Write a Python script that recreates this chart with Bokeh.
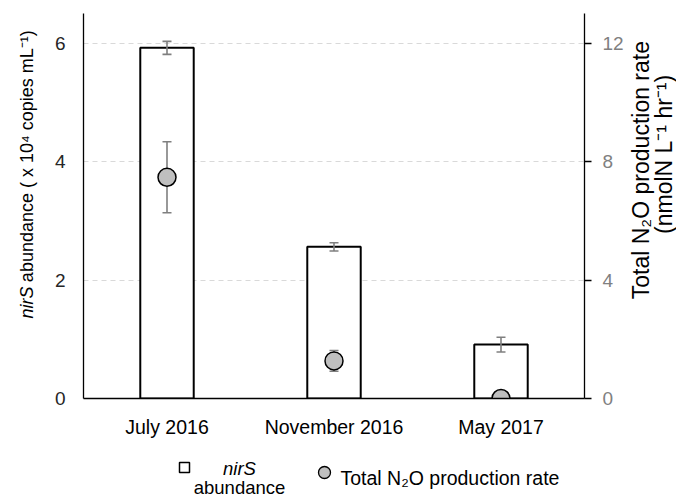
import math

from bokeh.plotting import figure
from bokeh.models import Range1d, LinearAxis, FactorRange, FixedTicker
from bokeh.layouts import column, row
from bokeh.embed import file_html
from bokeh.resources import INLINE
from bokeh.core.properties import value

# sampling campaigns
months = ["July 2016", "November 2016", "May 2017"]

# nirS gene abundance (x 10^4 copies mL^-1) and its error
nirs_abundance = [5.92, 2.56, 0.91]
nirs_err = [0.11, 0.07, 0.125]

# total N2O production rate (nmolN L^-1 hr^-1) and its error
n2o_rate = [7.47, 1.27, 0.0]
n2o_err = [1.2, 0.35, 0.0]

left_ticks = [0, 2, 4, 6]
right_ticks = [0, 4, 8, 12]

FONT = "Liberation Sans"
ERR_COLOR = "#7f7f7f"
UP = math.pi / 2

MAIN_H = 440
LEFT_W = 40
RIGHT_W = 50
TOTAL_W = 676
LEG_H = 497 - MAIN_H


def blank(width, height):
    """A bare figure whose data units are pixels (origin at bottom-left)."""
    f = figure(width=width, height=height, x_range=Range1d(0, width),
               y_range=Range1d(0, height), output_backend="svg",
               toolbar_location=None, x_axis_type=None, y_axis_type=None,
               min_border=0)
    f.outline_line_color = None
    f.grid.visible = False
    return f


p = figure(
    x_range=FactorRange(factors=months, range_padding=0),
    y_range=Range1d(0, 6.5),
    width=TOTAL_W - LEFT_W - RIGHT_W, height=MAIN_H,
    output_backend="svg", toolbar_location=None,
    min_border_left=43, min_border_right=42,
    min_border_top=13, min_border_bottom=39,
)
p.extra_y_ranges = {"n2o": Range1d(0, 13)}
p.outline_line_color = None

# grid: dashed horizontal lines only
p.xgrid.visible = False
p.ygrid.ticker = FixedTicker(ticks=[t for t in left_ticks if t > 0])
p.ygrid.grid_line_color = "#d9d9d9"
p.ygrid.grid_line_dash = "5 4"
p.ygrid.grid_line_width = 1

# left axis
ya = p.yaxis[0]
ya.ticker = FixedTicker(ticks=left_ticks)
ya.major_tick_out = 0
ya.major_tick_in = 0
ya.minor_tick_line_color = None
ya.axis_line_color = "black"
ya.axis_line_width = 1.3
ya.major_label_standoff = 18
ya.major_label_text_font = FONT
ya.major_label_text_font_size = "19px"
ya.major_label_text_color = "#262626"

# bottom axis
xa = p.xaxis[0]
xa.major_tick_line_color = None
xa.minor_tick_line_color = None
xa.axis_line_color = "black"
xa.axis_line_width = 1.3
xa.major_label_standoff = 11
xa.major_label_text_font = FONT
xa.major_label_text_font_size = "19.5px"
xa.major_label_text_color = "black"

# right axis for the N2O rate
ra = LinearAxis(y_range_name="n2o", ticker=FixedTicker(ticks=right_ticks))
ra.major_tick_out = 7
ra.major_tick_in = 0
ra.major_tick_line_color = "black"
ra.major_tick_line_width = 1.3
ra.minor_tick_line_color = None
ra.axis_line_color = "black"
ra.axis_line_width = 1.3
ra.major_label_standoff = 11
ra.major_label_text_font = FONT
ra.major_label_text_font_size = "19px"
ra.major_label_text_color = "#808080"
p.add_layout(ra, "right")

# bars with error bars
p.vbar(x=months, top=nirs_abundance, width=0.32,
       fill_color="white", line_color="black", line_width=2)

lo = [v - e for v, e in zip(nirs_abundance, nirs_err)]
hi = [v + e for v, e in zip(nirs_abundance, nirs_err)]
p.segment(x0=months, y0=lo, x1=months, y1=hi, line_color=ERR_COLOR, line_width=1.6)
p.scatter(x=months, y=lo, marker="dash", size=9, line_color=ERR_COLOR, line_width=1.6)
p.scatter(x=months, y=hi, marker="dash", size=9, line_color=ERR_COLOR, line_width=1.6)

# N2O points with error bars on the right axis
rlo = [v - e for v, e in zip(n2o_rate, n2o_err)]
rhi = [v + e for v, e in zip(n2o_rate, n2o_err)]
p.segment(x0=months, y0=rlo, x1=months, y1=rhi, line_color=ERR_COLOR,
          line_width=1.6, y_range_name="n2o")
p.scatter(x=months, y=rlo, marker="dash", size=9, line_color=ERR_COLOR,
          line_width=1.6, y_range_name="n2o")
p.scatter(x=months, y=rhi, marker="dash", size=9, line_color=ERR_COLOR,
          line_width=1.6, y_range_name="n2o")
p.scatter(x=months, y=n2o_rate, marker="circle", size=18, fill_color="#bfbfbf",
          line_color="black", line_width=1.5, y_range_name="n2o")

# left axis title: italic gene name, then the units, reading upward
lt = blank(LEFT_W, MAIN_H)
lt.text(x=[26], y=[128], text=["nirS"], angle=UP, text_font=value(FONT),
        text_font_style="italic", text_font_size="18px", text_align="right",
        text_baseline="middle", text_color="black")
lt.text(x=[26], y=[133], text=["abundance ( x 10\u2074 copies mL\u207b\u00b9)"], angle=UP,
        text_font=value(FONT), text_font_size="18px", text_align="left",
        text_baseline="middle", text_color="black")

# right axis title on two lines
rt = blank(RIGHT_W, MAIN_H)
rt.text(x=[14], y=[261], text=["Total N\u2082O production rate"], angle=UP,
        text_font=value(FONT), text_font_size="23px", text_align="center",
        text_baseline="middle", text_color="black")
rt.text(x=[37], y=[279], text=["(nmolN L\u207b\u00b9 hr\u207b\u00b9)"], angle=UP,
        text_font=value(FONT), text_font_size="23px", text_align="center",
        text_baseline="middle", text_color="black")

# legend strip below the chart
leg = blank(TOTAL_W, LEG_H)
leg.scatter(x=[184], y=[30], marker="square", size=10, fill_color="white",
            line_color="black", line_width=1.5)
leg.text(x=[239], y=[29], text=["nirS"], text_font=value(FONT), text_font_style="italic",
         text_font_size="18.5px", text_align="center", text_baseline="alphabetic",
         text_color="black")
leg.text(x=[239], y=[10], text=["abundance"], text_font=value(FONT),
         text_font_size="18.5px", text_align="center", text_baseline="alphabetic",
         text_color="black")
leg.scatter(x=[324], y=[25], marker="circle", size=12, fill_color="#bfbfbf",
            line_color="black", line_width=1.3)
leg.text(x=[340], y=[20], text=["Total N\u2082O production rate"], text_font=value(FONT),
         text_font_size="19.5px", text_align="left", text_baseline="alphabetic",
         text_color="black")

layout = column(row(lt, p, rt, spacing=0), leg, spacing=0)

open("out.html", "w").write(file_html(layout, INLINE))
